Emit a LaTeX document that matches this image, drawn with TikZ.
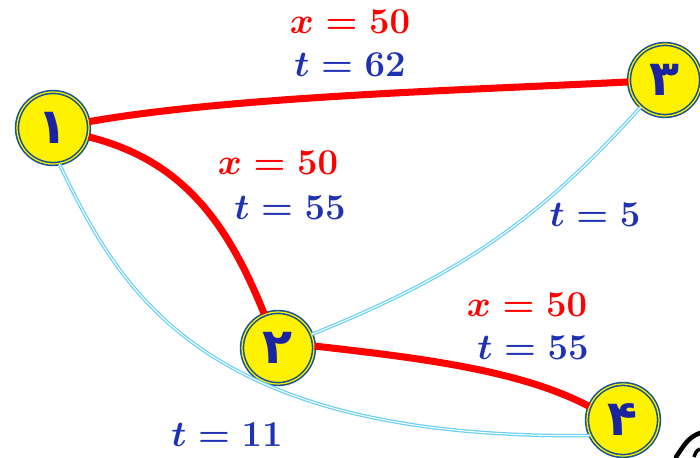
\documentclass[tikz,border=0pt]{standalone}
\usepackage{fontspec}
\usepackage{xcolor}
\usepackage{tikz}
\TeXXeTstate=1
\newfontfamily\fadigits[Script=Arabic]{DejaVu Sans}
\definecolor{grred}{RGB}{255,0,0}
\definecolor{grblue}{RGB}{32,50,180}
\definecolor{grnavy}{RGB}{26,36,160}
\definecolor{grring}{RGB}{22,82,150}
\definecolor{grsky}{RGB}{105,208,245}
\newcommand{\fanum}[1]{{\fadigits\bfseries\beginR #1\endR}}

\begin{document}
\begin{tikzpicture}[
  x=0.02cm, y=0.02cm,
  vert/.style={
    circle,
    draw=grring,
    double=yellow,
    double distance=0.7pt,
    line width=0.9pt,
    fill=yellow,
    minimum size=1.44cm,
    inner sep=0pt,
    text=grnavy,
    font=\fontsize{28}{30}\selectfont
  },
  heavy/.style={
    grred,
    line width=4pt
  },
  light/.style={
    draw=grsky,
    double=white,
    double distance=0.6pt,
    line width=0.7pt
  },
  xlab/.style={
    text=grred,
    font=\fontsize{21}{24}\selectfont\boldmath
  },
  tlab/.style={
    text=grblue,
    font=\fontsize{21}{24}\selectfont\boldmath
  }
]

\useasboundingbox (0,0) rectangle (700,457);

\node[vert] (v1) at (53,329) {\fanum{۱}};
\node[vert] (v2) at (278,109) {\fanum{۲}};
\node[vert] (v3) at (665,377) {\fanum{۳}};
\node[vert] (v4) at (623,37) {\fanum{۴}};

% light edges first, under the red ones
\draw[light] (v1.-80) .. controls (120,167) and (200,17) .. (v4.205);
\draw[light] (v2) to[out=22, in=-132] (v3);

\draw[heavy] (v1) to[out=10, in=183, looseness=0.7] (v3);
\draw[heavy] (v1) to[out=-14, in=112] (v2);
\draw[heavy] (v2.3) .. controls (420,99) and (520,87) .. (v4.158);

\node[xlab] (x13) at (350,435) {$x=50$};
\node[tlab] (t13) at (350,392) {$t=62$};
\node[xlab] (x12) at (278,294) {$x=50$};
\node[tlab] (t12) at (290,249) {$t=55$};
\node[tlab] (t23) at (595,242) {$t=5$};
\node[xlab] (x24) at (527,152) {$x=50$};
\node[tlab] (t24) at (533,109) {$t=55$};
\node[tlab] (t14) at (227,22) {$t=11$};

% cut-off mark in the corner
\draw[line width=2.6pt, line cap=round] (676,0) to[out=55, in=200] (700,24);
\draw[line width=2pt] (694,0) to[out=70, in=200] (700,8);

\end{tikzpicture}
\end{document}
